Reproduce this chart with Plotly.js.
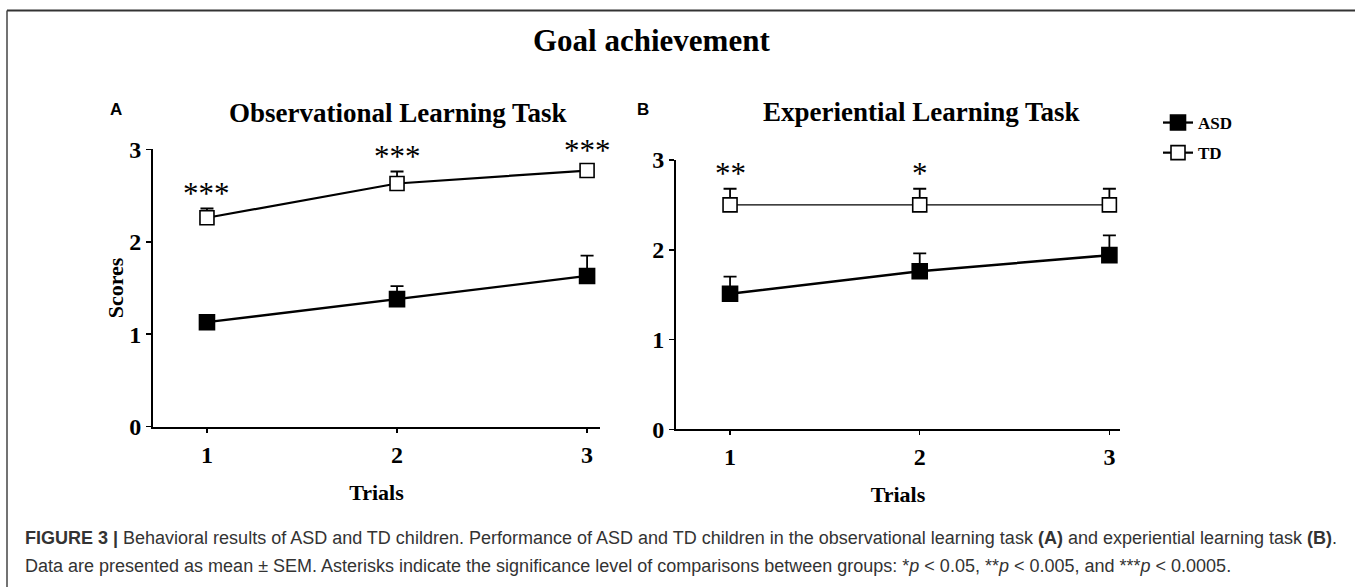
<!DOCTYPE html>
<html>
<head>
<meta charset="utf-8">
<script src="https://cdn.plot.ly/plotly-3.0.1.min.js"></script>
<style>
  html, body { margin: 0; padding: 0; background: #ffffff; }
  #chart { width: 1355px; height: 587px; }
</style>
</head>
<body>
<div id="chart"></div>
<script>
// ---- data ----
const trials = [1, 2, 3];
const trialLabels = ['1', '2', '3'];
const scoreTicks = [0, 1, 2, 3];

// Panel A: Observational Learning Task
const asdObs = [1.13, 1.38, 1.63];
const asdObsSem = [0.05, 0.14, 0.22];
const tdObs = [2.26, 2.63, 2.77];
const tdObsSem = [0.10, 0.13, 0.06];
const sigObs = ['***', '***', '***'];

// Panel B: Experiential Learning Task
const asdExp = [1.51, 1.76, 1.94];
const asdExpSem = [0.19, 0.20, 0.22];
const tdExp = [2.50, 2.50, 2.50];
const tdExpSem = [0.18, 0.18, 0.18];
const sigExp = ['**', '*', ''];

// ---- styling ----
const SERIF = 'Liberation Serif, Times New Roman, serif';
const SANS = 'Liberation Sans, Arial, sans-serif';
const W = 1355, H = 587;
const px = v => v / W;
const py = v => 1 - v / H;

function zeros(n) { return new Array(n).fill(0); }

function series(name, xa, ya, y, sem, filled, lw, showleg) {
  return {
    type: 'scatter', mode: 'lines+markers', name: name,
    x: trials, y: y, xaxis: xa, yaxis: ya,
    showlegend: showleg, legendgroup: name,
    line: { color: '#000000', width: lw },
    marker: {
      symbol: 'square', size: filled ? 15 : 14,
      color: filled ? '#000000' : '#ffffff',
      line: { color: '#000000', width: 1.6 }
    },
    error_y: {
      type: 'data', symmetric: false, array: sem, arrayminus: zeros(sem.length),
      color: '#000000', thickness: 1.8, width: 6.5
    },
    cliponaxis: false, hoverinfo: 'skip'
  };
}

const data = [
  series('ASD', 'x', 'y', asdObs, asdObsSem, true, 2.3, true),
  series('TD', 'x', 'y', tdObs, tdObsSem, false, 2.2, true),
  series('ASD', 'x2', 'y2', asdExp, asdExpSem, true, 2.5, false),
  series('TD', 'x2', 'y2', tdExp, tdExpSem, false, 1.4, false)
];

function sigAnnotations(sig, means, sems, xref, yref) {
  return sig.map((s, i) => ({
    text: s, x: trials[i], y: means[i] + sems[i], xref: xref, yref: yref,
    xanchor: 'center', yanchor: 'middle', yshift: 15, showarrow: false,
    font: { family: SERIF, size: 31, color: '#000000' }
  }));
}

const tickFont = { family: SERIF, size: 24, color: '#000000', weight: 'bold' };
const titleFont = { family: SERIF, size: 22, color: '#000000', weight: 'bold' };

function xAxis(domain, range, anchor) {
  return {
    domain: domain, range: range, anchor: anchor,
    tickmode: 'array', tickvals: trials, ticktext: trialLabels,
    ticks: 'outside', ticklen: 4, tickwidth: 1.5, tickcolor: '#000000',
    showline: true, linecolor: '#000000', linewidth: 2,
    showgrid: false, zeroline: false, fixedrange: true,
    tickfont: tickFont, ticklabelstandoff: 1,
    title: { text: 'Trials', font: titleFont, standoff: 18 }
  };
}
function yAxis(domain, anchor, title) {
  return {
    domain: domain, range: [0, 3], anchor: anchor,
    tickmode: 'array', tickvals: scoreTicks,
    ticks: 'outside', ticklen: 5, tickwidth: 1.5, tickcolor: '#000000',
    showline: true, linecolor: '#000000', linewidth: 2,
    showgrid: false, zeroline: false, fixedrange: true,
    tickfont: tickFont, ticklabelstandoff: 0,
    title: title ? { text: title, font: titleFont, standoff: 0 } : { text: '' }
  };
}

const annotations = [
  { text: 'Goal achievement', xref: 'paper', yref: 'paper', x: px(651), y: py(40),
    xanchor: 'center', yanchor: 'middle', showarrow: false,
    font: { family: SERIF, size: 31, color: '#000000', weight: 'bold' } },
  { text: 'Observational Learning Task', xref: 'paper', yref: 'paper', x: px(398), y: py(113),
    xanchor: 'center', yanchor: 'middle', showarrow: false,
    font: { family: SERIF, size: 27, color: '#000000', weight: 'bold' } },
  { text: 'Experiential Learning Task', xref: 'paper', yref: 'paper', x: px(921), y: py(112),
    xanchor: 'center', yanchor: 'middle', showarrow: false,
    font: { family: SERIF, size: 27, color: '#000000', weight: 'bold' } },
  { text: 'A', xref: 'paper', yref: 'paper', x: px(116), y: py(109),
    xanchor: 'center', yanchor: 'middle', showarrow: false,
    font: { family: SANS, size: 17, color: '#000000', weight: 'bold' } },
  { text: 'B', xref: 'paper', yref: 'paper', x: px(643), y: py(109),
    xanchor: 'center', yanchor: 'middle', showarrow: false,
    font: { family: SANS, size: 17, color: '#000000', weight: 'bold' } },
  { text: '<b>FIGURE 3 |</b> Behavioral results of ASD and TD children. Performance of ASD and TD children in the observational learning task <b>(A)</b> and experiential learning task <b>(B)</b>.',
    xref: 'paper', yref: 'paper', x: px(23), y: py(538), xanchor: 'left', yanchor: 'middle',
    showarrow: false, align: 'left',
    font: { family: SANS, size: 18, color: '#333333' } },
  { text: 'Data are presented as mean \u00b1 SEM. Asterisks indicate the significance level of comparisons between groups: *<i>p</i> &lt; 0.05, **<i>p</i> &lt; 0.005, and ***<i>p</i> &lt; 0.0005.',
    xref: 'paper', yref: 'paper', x: px(23), y: py(566), xanchor: 'left', yanchor: 'middle',
    showarrow: false, align: 'left',
    font: { family: SANS, size: 18, color: '#333333' } }
].concat(
  sigAnnotations(sigObs, tdObs, tdObsSem, 'x', 'y'),
  sigAnnotations(sigExp, tdExp, tdExpSem, 'x2', 'y2')
);

const layout = {
  width: W, height: H,
  margin: { l: 0, r: 0, t: 0, b: 0, pad: 0 },
  paper_bgcolor: '#ffffff', plot_bgcolor: 'rgba(0,0,0,0)',
  font: { family: SERIF, color: '#000000' },
  xaxis: xAxis([px(153), px(600)], [0.716, 3.068], 'y'),
  yaxis: yAxis([1 - 426.7 / H, 1 - 149.3 / H], 'x', 'Scores'),
  xaxis2: xAxis([px(676), px(1120)], [0.715, 3.056], 'y2'),
  yaxis2: yAxis([1 - 429.3 / H, 1 - 160 / H], 'x2', null),
  showlegend: true,
  legend: {
    x: px(1158), y: py(105), xanchor: 'left', yanchor: 'top',
    bgcolor: 'rgba(0,0,0,0)', borderwidth: 0,
    font: { family: SERIF, size: 17, color: '#000000', weight: 'bold' },
    tracegroupgap: 5, traceorder: 'grouped'
  },
  shapes: [
    { type: 'line', xref: 'paper', yref: 'paper', x0: px(7), x1: 1, y0: py(10.5), y1: py(10.5),
      line: { color: '#333333', width: 2 } },
    { type: 'line', xref: 'paper', yref: 'paper', x0: px(7), x1: px(7), y0: py(10.5), y1: 0,
      line: { color: '#444444', width: 1.5 } }
  ],
  annotations: annotations
};

Plotly.newPlot('chart', data, layout, { staticPlot: true, displayModeBar: false });
</script>
</body>
</html>
